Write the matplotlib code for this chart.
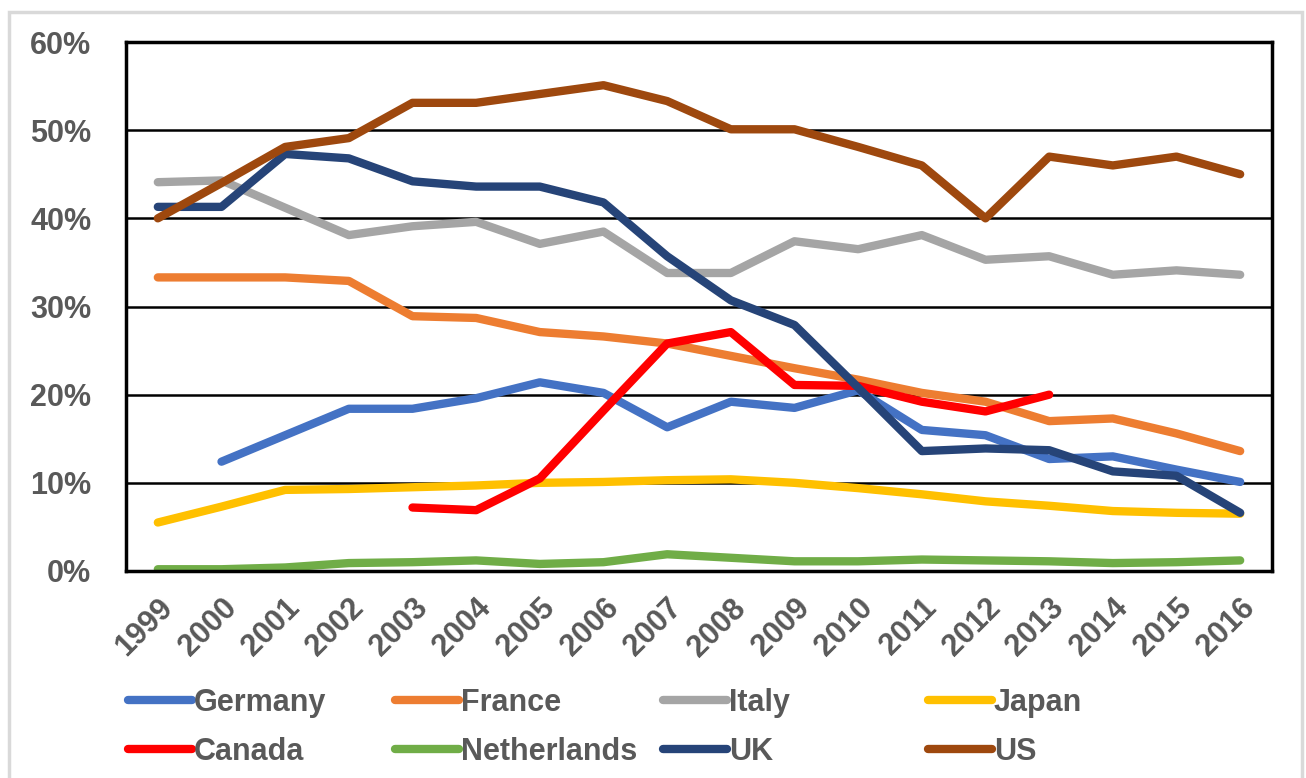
import matplotlib.pyplot as plt
from matplotlib.lines import Line2D
from matplotlib.patches import Rectangle
import numpy as np

# Share of each country (percent), 1999-2016; None = no data
years = [str(y) for y in range(1999, 2017)]

germany = [None, 12.4, 15.4, 18.4, 18.4, 19.6, 21.4, 20.2, 16.3, 19.2,
           18.5, 20.5, 16.0, 15.4, 12.7, 13.0, 11.5, 10.1]
france = [33.3, 33.3, 33.3, 32.9, 28.9, 28.7, 27.1, 26.6, 25.8, 24.4,
          23.0, 21.7, 20.2, 19.2, 17.0, 17.3, 15.6, 13.6]
italy = [44.1, 44.3, 41.2, 38.1, 39.1, 39.6, 37.1, 38.5, 33.8, 33.8,
         37.4, 36.5, 38.1, 35.3, 35.7, 33.6, 34.1, 33.6]
japan = [5.5, 7.3, 9.2, 9.3, 9.5, 9.7, 10.0, 10.1, 10.3, 10.4,
         10.0, 9.4, 8.7, 7.9, 7.4, 6.8, 6.6, 6.5]
canada = [None, None, None, None, 7.2, 6.9, 10.5, 18.2, 25.8, 27.1,
          21.1, 21.0, 19.2, 18.1, 20.0, None, None, None]
netherlands = [0.2, 0.2, 0.4, 0.9, 1.0, 1.2, 0.8, 1.0, 1.9, 1.5,
               1.1, 1.1, 1.3, 1.2, 1.1, 0.9, 1.0, 1.2]
uk = [41.3, 41.3, 47.3, 46.8, 44.2, 43.6, 43.6, 41.8, 35.7, 30.7,
      27.9, 20.8, 13.6, 13.9, 13.7, 11.3, 10.8, 6.6]
us = [40.0, 44.0, 48.1, 49.1, 53.1, 53.1, 54.1, 55.1, 53.3, 50.1,
      50.1, 48.1, 46.0, 40.0, 47.0, 46.0, 47.0, 45.0]

series = [
    ("Germany", germany, "#4472c4"),
    ("France", france, "#ed7d31"),
    ("Italy", italy, "#a5a5a5"),
    ("Japan", japan, "#ffc000"),
    ("Canada", canada, "#ff0000"),
    ("Netherlands", netherlands, "#70ad47"),
    ("UK", uk, "#264478"),
    ("US", us, "#9e480e"),
]

plt.rcParams['font.family'] = ['Liberation Sans', 'DejaVu Sans']
text_color = "#595959"

fig = plt.figure(figsize=(13.06, 7.78), dpi=100)
ax = fig.add_axes([126 / 1306, 1 - 571 / 778, (1272 - 126) / 1306, (571 - 42) / 778])

# light gray outer frame of the chart area
fig.patches.append(Rectangle((9 / 1306, -0.05), (1302 - 9) / 1306, 1.05 - 12 / 778,
                             transform=fig.transFigure, fill=False,
                             edgecolor="#d9d9d9", linewidth=2.5))

x = np.arange(len(years))
handles = {}
for name, vals, color in series:
    y = np.array([np.nan if v is None else v for v in vals], dtype=float)
    line, = ax.plot(x, y, color=color, linewidth=6, solid_capstyle="round",
                    solid_joinstyle="round", label=name)
    handles[name] = line

ax.set_xlim(-0.5, len(years) - 0.5)
ax.set_ylim(0, 60)
ax.set_yticks(range(0, 61, 10))
ax.set_yticklabels([f"{v}%" for v in range(0, 61, 10)])
ax.set_xticks(x)
ax.set_xticklabels(years, rotation=45, ha="right", rotation_mode="anchor")
ax.yaxis.grid(True, color="black", linewidth=1.8)
ax.set_axisbelow(True)
for sp in ax.spines.values():
    sp.set_linewidth(2.5)
    sp.set_color("black")
ax.tick_params(axis="both", length=0, labelsize=22, colors=text_color)
ax.tick_params(axis="y", pad=25)
ax.tick_params(axis="x", pad=16)
for lbl in ax.get_xticklabels() + ax.get_yticklabels():
    lbl.set_fontweight("bold")

# legend: four columns placed like the reference
col_x = [128, 395, 663, 928]
columns = [["Germany", "Canada"], ["France", "Netherlands"], ["Italy", "UK"], ["Japan", "US"]]
for cx, names in zip(col_x, columns):
    hs = [Line2D([], [], color=handles[n].get_color(), linewidth=6, solid_capstyle="round")
          for n in names]
    leg = fig.legend(hs, names, loc="upper left",
                     bbox_to_anchor=(cx / 1306, 1 - 688 / 778),
                     frameon=False, handlelength=2.1, handletextpad=0.05,
                     borderpad=0, borderaxespad=0, labelspacing=0.62,
                     prop={"size": 22, "weight": "bold"})
    for t in leg.get_texts():
        t.set_color(text_color)

fig.savefig("out.png", dpi=100)
